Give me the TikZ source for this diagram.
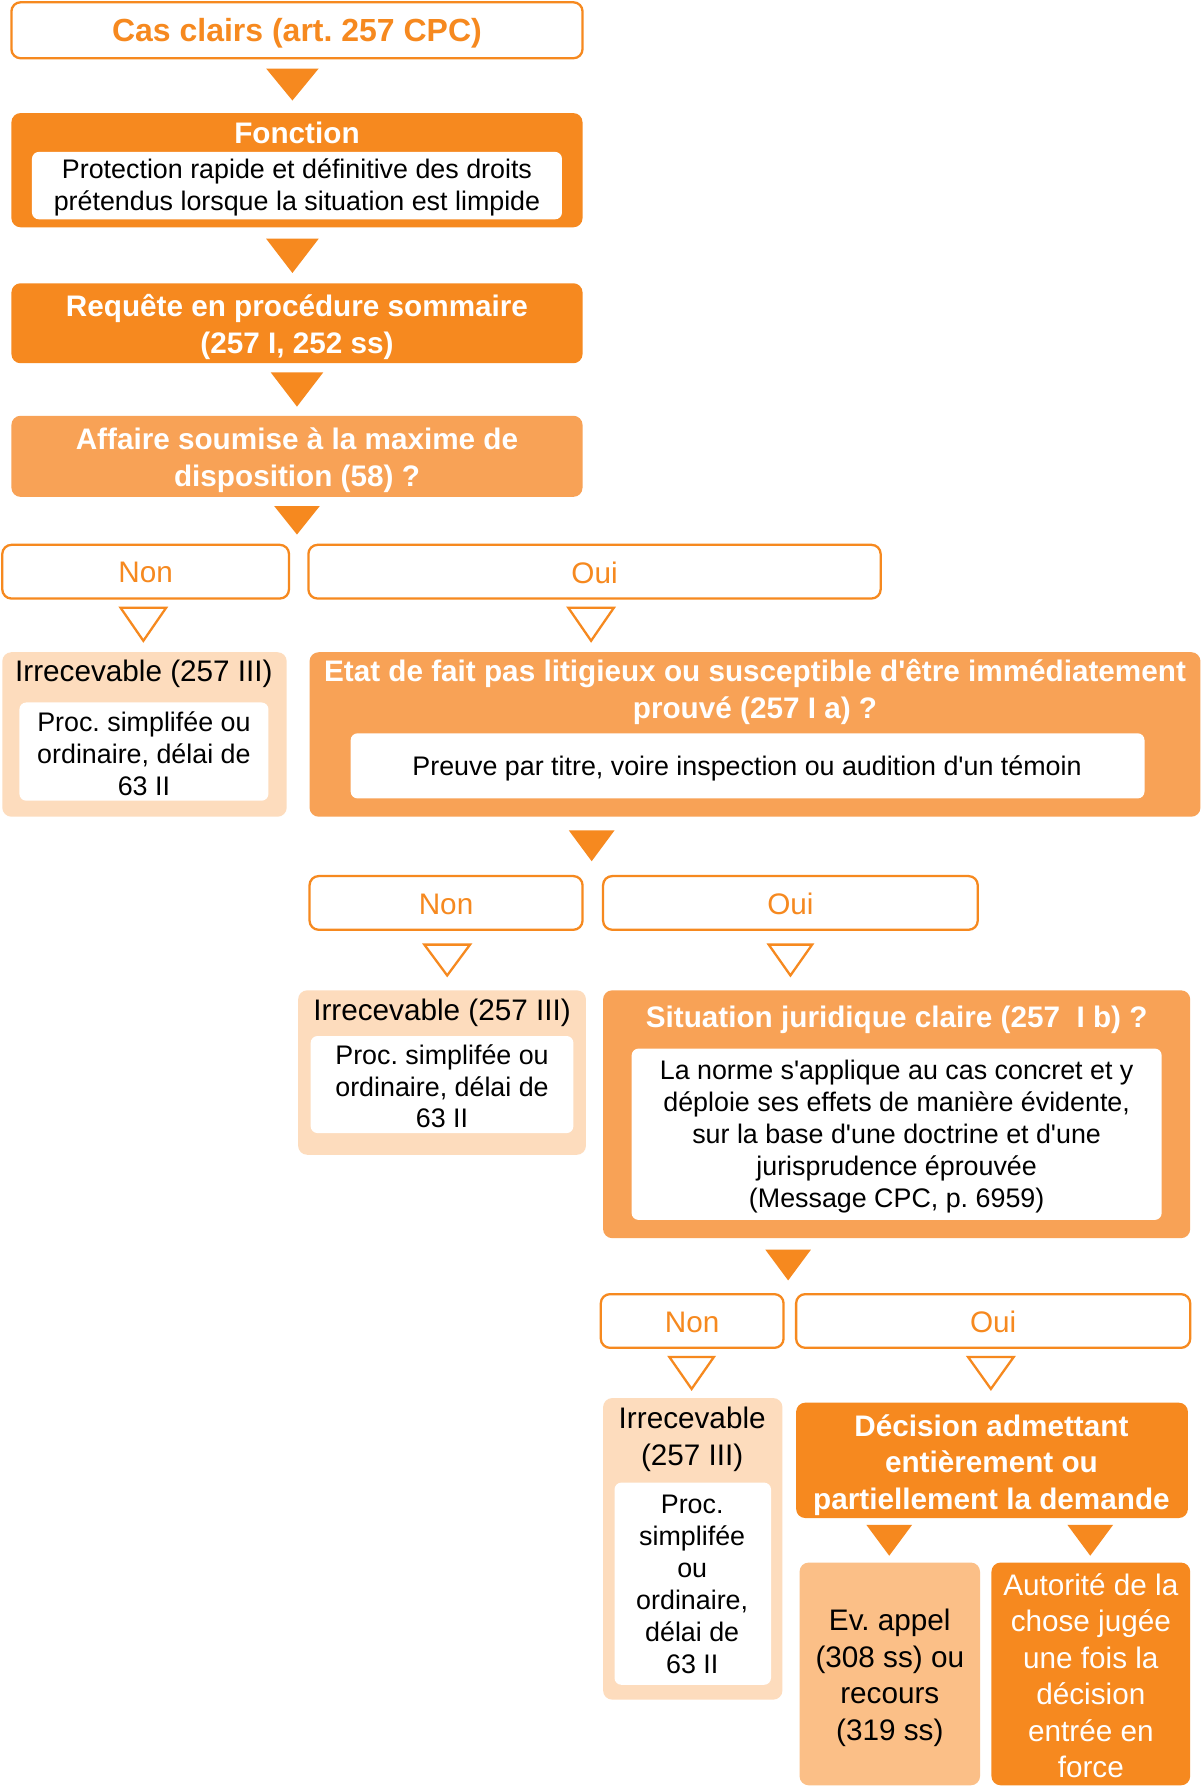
\documentclass[tikz,border=0pt]{standalone}
\usepackage{fontspec}
\setmainfont{Liberation Sans}
\usetikzlibrary{fit}
\frenchspacing
\newcommand{\aq}{\textquotesingle}
\definecolor{dorange}{HTML}{F6891F}
\definecolor{morange}{HTML}{F8A256}
\definecolor{peach}{HTML}{FDDCBD}
\definecolor{lorange}{HTML}{FBBF87}
\tikzset{
  box/.style={inner sep=0pt, rounded corners=4pt},
  darkbox/.style={box, fill=dorange},
  medbox/.style={box, fill=morange},
  peachbox/.style={box, fill=peach},
  lightbox/.style={box, fill=lorange},
  whitebox/.style={box, fill=white, rounded corners=3pt},
  linebox/.style={box, fill=white, draw=dorange, line width=1pt},
  titletxt/.style={font=\bfseries\fontsize{13}{16}\selectfont, text=white, align=center, inner sep=0pt},
  bodytxt/.style={font=\fontsize{11.75}{14}\selectfont, text=black, align=center, inner sep=0pt},
  bigtxt/.style={font=\fontsize{13}{16}\selectfont, text=black, align=center, inner sep=0pt},
  choicetxt/.style={font=\fontsize{13}{16}\selectfont, text=dorange, inner sep=0pt},
  fulltri/.style={fill=dorange},
  hollowtri/.style={draw=dorange, fill=white, line width=1pt, line join=miter},
}
\begin{document}
\begin{tikzpicture}[x=0.5pt,y=-0.5pt]
\useasboundingbox (0,0) rectangle (1051,1568);
\fill[white] (0,0) rectangle (1051,1568);

% Box 1
\node[linebox, fit={(10,2)(510,51)}] (b1) {};
\node[font=\bfseries\fontsize{14}{16}\selectfont, text=dorange, inner sep=0pt] (b1t) at (260,29.5) {Cas clairs (art. 257 CPC)};

% triangle 1
\coordinate (t1) at (256,60);
\fill[fulltri] (t1) ++(-23,0) -- ++(46,0) -- ++(-23,28) -- cycle;

% Box 2
\node[darkbox, fit={(10,99)(510,199)}] (b2) {};
\node[titletxt] (b2t) at (260,116.5) {Fonction};
\node[whitebox, fit={(28,133)(492,192)}] (b2w) {};
\node[bodytxt] (b2b) at (260,164) {Protection rapide et définitive des droits\\prétendus lorsque la situation est limpide};

% triangle 2
\coordinate (t2) at (256,209);
\fill[fulltri] (t2) ++(-23,0) -- ++(46,0) -- ++(-23,30) -- cycle;

% Box 3
\node[darkbox, fit={(10,248)(510,318)}] (b3) {};
\node[titletxt] (b3t) at (260,286.5) {Requête en procédure sommaire\\(257 I, 252 ss)};

% triangle 3
\coordinate (t3) at (260,326);
\fill[fulltri] (t3) ++(-23,0) -- ++(46,0) -- ++(-23,30) -- cycle;

% Box 4
\node[medbox, fit={(10,364)(510,435)}] (b4) {};
\node[titletxt] (b4t) at (260,403) {Affaire soumise à la maxime de\\disposition (58) ?};

% triangle 4
\coordinate (t4) at (260,443);
\fill[fulltri] (t4) ++(-20,0) -- ++(40,0) -- ++(-20,25) -- cycle;

% Non / Oui level 1
\node[linebox, fit={(2,477)(253,524)}] (n1) {};
\node[choicetxt] at ([yshift=-0.5pt]n1.center) {Non};
\node[linebox, fit={(270,477)(771,524)}] (o1) {};
\node[choicetxt] at ([yshift=-0.5pt]o1.center) {Oui};

\coordinate (h1) at (125.5,532);
\draw[hollowtri] (h1) ++(-20,0) -- ++(40,0) -- ++(-20,29) -- cycle;
\coordinate (h2) at (517.5,532);
\draw[hollowtri] (h2) ++(-20,0) -- ++(40,0) -- ++(-20,29) -- cycle;

% Irrecevable 1
\node[peachbox, fit={(2,571)(251,715)}] (i1) {};
\node[bigtxt] (i1t) at (126,590) {Irrecevable (257 III)};
\node[whitebox, fit={(17,615)(235,701)}] (i1w) {};
\node[bodytxt] (i1b) at (126,660) {Proc. simplifée ou\\ordinaire, délai de\\63 II};

% Etat de fait
\node[medbox, fit={(271,571)(1051,715)}] (e1) {};
\node[titletxt] (e1t) at (661,606) {Etat de fait pas litigieux ou susceptible d\aq être immédiatement\\prouvé (257 I a) ?};
\node[whitebox, fit={(307,642)(1002,699)}] (e1w) {};
\node[bodytxt] (e1b) at (654,673) {Preuve par titre, voire inspection ou audition d\aq un témoin};

% triangle 5
\coordinate (t5) at (518,727);
\fill[fulltri] (t5) ++(-20,0) -- ++(40,0) -- ++(-20,27) -- cycle;

% Non / Oui level 2
\node[linebox, fit={(271,767)(510,814)}] (n2) {};
\node[choicetxt] at ([yshift=-0.5pt]n2.center) {Non};
\node[linebox, fit={(528,767)(856,814)}] (o2) {};
\node[choicetxt] at ([yshift=-0.5pt]o2.center) {Oui};

\coordinate (h3) at (391.5,827);
\draw[hollowtri] (h3) ++(-20,0) -- ++(40,0) -- ++(-20,27) -- cycle;
\coordinate (h4) at (692,827);
\draw[hollowtri] (h4) ++(-19,0) -- ++(38,0) -- ++(-19,27) -- cycle;

% Irrecevable 2
\node[peachbox, fit={(261,867)(513,1011)}] (i2) {};
\node[bigtxt] (i2t) at (387,887) {Irrecevable (257 III)};
\node[whitebox, fit={(272,907)(502,992)}] (i2w) {};
\node[bodytxt] (i2b) at (387,951) {Proc. simplifée ou\\ordinaire, délai de\\63 II};

% Situation juridique
\node[medbox, fit={(528,867)(1042,1084)}] (s1) {};
\node[titletxt] (s1t) at (785,893) {Situation juridique claire (257\ \ I b) ?};
\node[whitebox, fit={(553,918)(1017,1068)}] (s1w) {};
\node[bodytxt] (s1b) at (785,995) {La norme s\aq applique au cas concret et y\\déploie ses effets de manière évidente,\\sur la base d\aq une doctrine et d\aq une\\jurisprudence éprouvée\\(Message CPC, p. 6959)};

% triangle 6
\coordinate (t6) at (690,1094);
\fill[fulltri] (t6) ++(-20,0) -- ++(40,0) -- ++(-20,27) -- cycle;

% Non / Oui level 3
\node[linebox, fit={(526,1133)(686,1180)}] (n3) {};
\node[choicetxt] at ([yshift=-0.5pt]n3.center) {Non};
\node[linebox, fit={(697,1133)(1042,1180)}] (o3) {};
\node[choicetxt] at ([yshift=-0.5pt]o3.center) {Oui};

\coordinate (h5) at (605.5,1188);
\draw[hollowtri] (h5) ++(-19.5,0) -- ++(39,0) -- ++(-19.5,28) -- cycle;
\coordinate (h6) at (867.5,1188);
\draw[hollowtri] (h6) ++(-20,0) -- ++(40,0) -- ++(-20,28) -- cycle;

% Irrecevable 3
\node[peachbox, fit={(528,1224)(685,1488)}] (i3) {};
\node[bigtxt] (i3t) at (606,1260) {Irrecevable\\(257 III)};
\node[whitebox, fit={(538,1298)(675,1475)}] (i3w) {};
\node[bodytxt] (i3b) at (606,1387) {Proc.\\simplifée\\ou\\ordinaire,\\délai de\\63 II};

% Decision
\node[darkbox, fit={(697,1228)(1040,1329)}] (d1) {};
\node[titletxt] (d1t) at (868,1282.5) {Décision admettant\\entièrement ou\\partiellement la demande};

% triangles 7, 8
\coordinate (t7) at (778.5,1335);
\fill[fulltri] (t7) ++(-20,0) -- ++(40,0) -- ++(-20,27) -- cycle;
\coordinate (t8) at (954.5,1335);
\fill[fulltri] (t8) ++(-20,0) -- ++(40,0) -- ++(-20,27) -- cycle;

% Ev. appel
\node[lightbox, fit={(700,1368)(858,1563)}] (ev) {};
\node[bigtxt] (evt) at (779,1469) {Ev. appel\\(308 ss) ou\\recours\\(319 ss)};

% Autorite
\node[darkbox, fit={(868,1368)(1042,1563)}] (au) {};
\node[bigtxt, text=white] (aut) at (955,1467) {Autorité de la\\chose jugée\\une fois la\\décision\\entrée en\\force};
\end{tikzpicture}
\end{document}
